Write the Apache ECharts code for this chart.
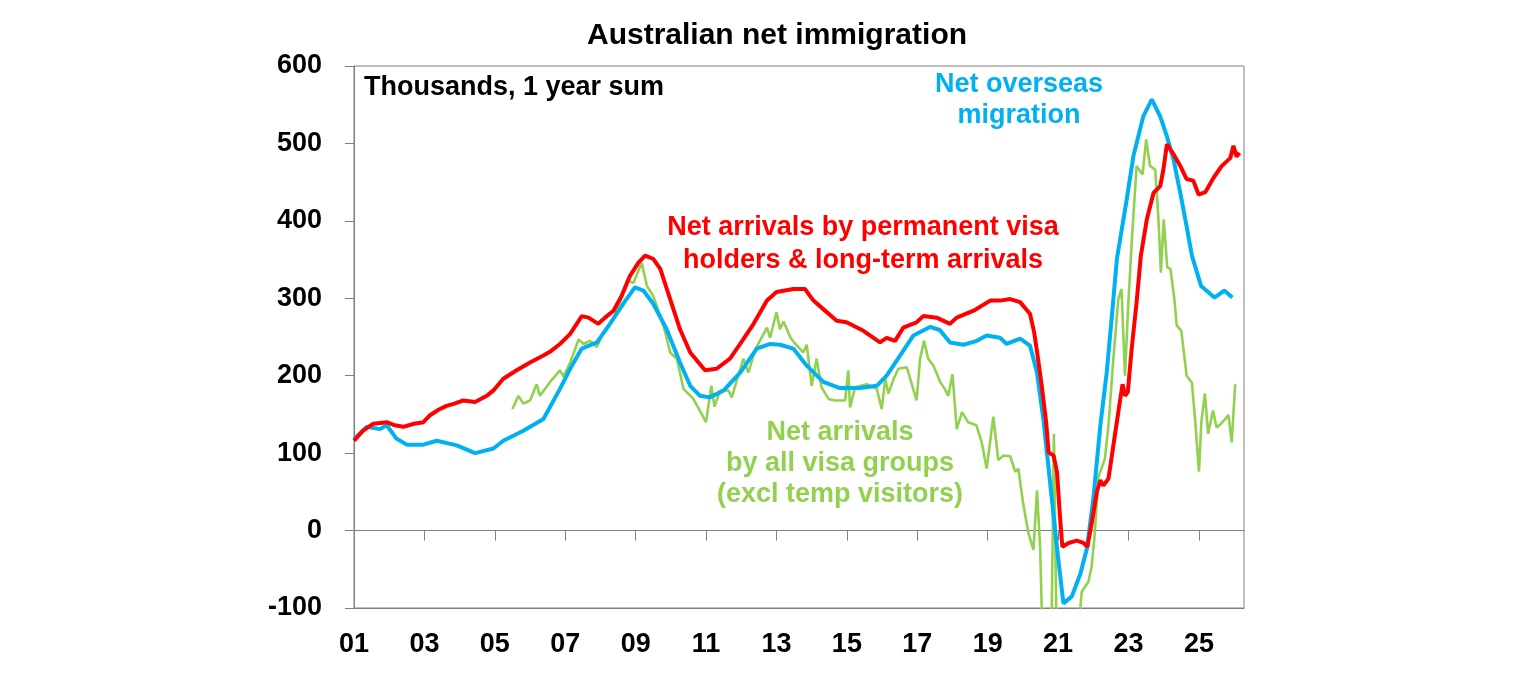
<!DOCTYPE html>
<html>
<head>
<meta charset="utf-8">
<script src="https://cdn.jsdelivr.net/npm/echarts@6/dist/echarts.min.js"></script>
<style>
html,body{margin:0;padding:0;background:#fff;}
#chart{width:1536px;height:680px;}
</style>
</head>
<body>
<div id="chart"></div>
<script>
// ---- Data (thousands, 1 year sum); x values are decimal years ----
const tickYears = [2001, 2003, 2005, 2007, 2009, 2011, 2013, 2015, 2017, 2019, 2021, 2023, 2025];
const yTicks = [-100, 0, 100, 200, 300, 400, 500, 600];

// Net arrivals by permanent visa holders & long-term arrivals (red)
const redYears = [2001.0,2001.26,2001.55,2001.93,2002.16,2002.4,2002.7,2002.97,2003.16,2003.4,2003.63,2003.85,
  2004.1,2004.44,2004.77,2004.96,2005.24,2005.62,2006.0,2006.38,2006.6,2006.85,2007.14,2007.47,2007.66,2007.94,
  2008.13,2008.37,2008.6,2008.84,2009.08,2009.27,2009.5,2009.7,2009.98,2010.26,2010.55,2010.97,2011.3,2011.68,
  2011.97,2012.35,2012.73,2013.0,2013.48,2013.81,2014.05,2014.33,2014.71,2014.99,2015.47,2015.94,2016.13,2016.37,
  2016.6,2016.98,2017.17,2017.55,2017.93,2018.12,2018.6,2019.07,2019.35,2019.64,2019.92,2020.2,2020.32,2020.42,
  2020.54,2020.66,2020.73,2020.87,2020.97,2021.05,2021.12,2021.3,2021.53,2021.72,2021.83,2021.96,2022.1,2022.2,
  2022.28,2022.43,2022.57,2022.71,2022.83,2022.9,2022.98,2023.09,2023.23,2023.35,2023.52,2023.71,2023.9,2023.99,
  2024.09,2024.28,2024.47,2024.65,2024.84,2024.99,2025.18,2025.42,2025.65,2025.89,2025.98,2026.07,2026.15];
const redValues = [116,129,138,140,136,134,138,140,149,156,161,164,
  168,166,174,181,196,207,217,226,232,241,254,277,275,267,
  275,284,303,329,346,355,351,338,299,260,230,207,209,222,
  241,267,297,308,312,312,297,286,271,269,258,243,249,245,
  262,269,277,275,267,275,284,297,297,299,295,280,256,225,
  185,140,101,97,75,20,-21,-16,-13,-16,-21,11,50,65,
  58,67,110,153,189,174,179,235,295,355,402,436,445,466,
  499,486,471,454,452,434,437,456,471,481,497,483,488];

// Net overseas migration (blue)
const blueYears = [2001.0,2001.36,2001.74,2001.93,2002.2,2002.5,2002.97,2003.35,2003.92,2004.44,2004.96,2005.24,
  2005.81,2006.38,2006.85,2007.14,2007.47,2007.9,2008.27,2008.65,2008.98,2009.22,2009.5,2009.88,2010.26,2010.55,
  2010.83,2011.1,2011.5,2011.97,2012.44,2012.82,2013.1,2013.48,2013.86,2014.33,2014.8,2015.37,2015.85,2016.13,
  2016.51,2016.89,2017.36,2017.64,2017.93,2018.31,2018.69,2018.97,2019.35,2019.54,2019.92,2020.2,2020.4,2020.58,
  2020.77,2020.96,2021.15,2021.39,2021.63,2021.82,2022.0,2022.2,2022.38,2022.57,2022.67,2022.95,2023.14,2023.42,
  2023.66,2023.9,2024.09,2024.28,2024.47,2024.65,2024.8,2025.06,2025.44,2025.72,2025.95];
const blueValues = [118,134,131,136,119,111,111,116,110,100,106,116,
  129,144,183,209,235,243,267,293,314,310,293,260,217,187,
  174,172,181,204,235,241,240,235,213,192,184,184,187,200,
  226,252,263,259,243,240,245,252,249,241,248,239,204,144,
  63,-19,-94,-85,-56,-23,41,136,204,299,351,428,484,535,
  557,535,509,479,436,393,355,316,301,310,301];

// Net arrivals by all visa groups (excl temp visitors) (green)
const greenYears = [2005.5,2005.67,2005.81,2006.0,2006.19,2006.28,2006.57,2006.85,2006.95,2007.14,2007.38,2007.52,
  2007.7,2007.9,2008.08,2008.37,2008.6,2008.75,2008.94,2009.17,2009.32,2009.5,2009.79,2009.98,2010.17,2010.36,
  2010.64,2011.0,2011.15,2011.24,2011.4,2011.64,2011.73,2012.06,2012.2,2012.4,2012.73,2012.82,2013.0,2013.1,
  2013.2,2013.4,2013.5,2013.76,2013.86,2014.0,2014.14,2014.28,2014.48,2014.66,2014.95,2015.04,2015.09,2015.23,
  2015.56,2015.85,2015.99,2016.09,2016.18,2016.33,2016.46,2016.7,2016.98,2017.08,2017.19,2017.31,2017.46,2017.65,
  2017.78,2017.88,2018.0,2018.12,2018.27,2018.44,2018.68,2018.83,2018.97,2019.16,2019.3,2019.45,2019.64,2019.78,
  2019.87,2020.0,2020.16,2020.3,2020.4,2020.49,2020.58,2020.8,2020.88,2020.97,2021.45,2021.67,2021.86,2021.95,
  2022.03,2022.15,2022.33,2022.43,2022.57,2022.71,2022.8,2022.9,2022.99,2023.1,2023.23,2023.4,2023.5,2023.61,
  2023.76,2023.85,2023.92,2024.0,2024.1,2024.19,2024.3,2024.37,2024.5,2024.65,2024.8,2024.89,2025.0,2025.07,
  2025.17,2025.26,2025.4,2025.5,2025.63,2025.84,2025.93,2026.03];
const greenValues = [157,174,164,168,189,174,192,207,199,217,247,241,
  245,237,256,273,300,323,320,346,316,303,265,230,222,183,
  170,140,187,160,181,181,172,222,204,234,262,249,282,260,
  270,249,243,230,240,187,222,185,170,168,168,207,159,185,
  189,183,157,196,177,196,209,211,168,222,245,222,213,192,
  183,174,202,131,153,140,136,114,80,147,91,97,96,76,
  80,37,-4,-25,52,-23,-180,-180,125,-180,-200,-79,-66,-47,
  -10,70,93,136,222,299,312,200,290,380,471,460,505,471,
  466,402,333,402,340,338,300,265,258,200,191,144,76,141,
  177,125,155,133,138,149,114,189];

const pair = (xs, ys) => xs.map((x, i) => [x, ys[i]]);

const FONT = '"Liberation Sans", Arial, Helvetica, sans-serif';
const AXIS_GREY = '#808080';
const RED = '#FF0000', BLUE = '#00B0F0', GREEN = '#92D050';

const chart = echarts.init(document.getElementById('chart'), null, {renderer: 'canvas'});

const option = {
  animation: false,
  backgroundColor: '#ffffff',
  grid: {
    left: 354, right: 292, top: 66, bottom: 72,
    show: true, borderColor: AXIS_GREY, borderWidth: 1, backgroundColor: 'transparent'
  },
  xAxis: [
    {
      type: 'value', min: 2001, max: 2026.28, position: 'bottom',
      axisLine: {show: true, onZero: false, lineStyle: {color: AXIS_GREY, width: 1}},
      axisTick: {show: false},
      splitLine: {show: false},
      axisLabel: {
        customValues: tickYears,
        formatter: v => String(Math.round(v) % 100).padStart(2, '0'),
        fontFamily: FONT, fontSize: 27, fontWeight: 'bold', color: '#000', margin: 23
      }
    },
    {
      type: 'value', min: 2001, max: 2026.28, position: 'bottom',
      axisLine: {show: true, onZero: true, lineStyle: {color: AXIS_GREY, width: 1}},
      axisTick: {show: true, customValues: tickYears.slice(1), length: 10, inside: false,
                 lineStyle: {color: AXIS_GREY, width: 1}},
      axisLabel: {show: false, customValues: tickYears.slice(1)},
      splitLine: {show: false}
    }
  ],
  yAxis: {
    type: 'value', min: yTicks[0], max: yTicks[yTicks.length - 1], interval: 100,
    axisLine: {show: true, onZero: false, lineStyle: {color: AXIS_GREY, width: 1}},
    axisTick: {show: true, length: 9, lineStyle: {color: AXIS_GREY, width: 1}},
    splitLine: {show: false},
    axisLabel: {fontFamily: FONT, fontSize: 27, fontWeight: 'bold', color: '#000', margin: 32}
  },
  series: [
    {
      name: 'Net arrivals by all visa groups (excl temp visitors)', type: 'line',
      xAxisIndex: 0, data: pair(greenYears, greenValues), showSymbol: false, symbol: 'none',
      clip: true, lineStyle: {color: GREEN, width: 2.6}, z: 2
    },
    {
      name: 'Net overseas migration', type: 'line',
      xAxisIndex: 0, data: pair(blueYears, blueValues), showSymbol: false, symbol: 'none',
      clip: true, lineStyle: {color: BLUE, width: 4}, z: 3
    },
    {
      name: 'Net arrivals by permanent visa holders & long-term arrivals', type: 'line',
      xAxisIndex: 0, data: pair(redYears, redValues), showSymbol: false, symbol: 'none',
      clip: true, lineStyle: {color: RED, width: 4}, z: 4
    }
  ],
  graphic: [
    {type: 'text', x: 777, y: 36, z: 10,
     style: {text: 'Australian net immigration', fill: '#000', font: 'bold 30px ' + FONT,
             align: 'center', verticalAlign: 'middle'}},
    {type: 'text', x: 364, y: 88, z: 10,
     style: {text: 'Thousands, 1 year sum', fill: '#000', font: 'bold 27px ' + FONT,
             align: 'left', verticalAlign: 'middle'}},
    {type: 'text', x: 1019, y: 100, z: 10,
     style: {text: 'Net overseas\nmigration', fill: BLUE, font: 'bold 27px ' + FONT,
             align: 'center', verticalAlign: 'middle', lineHeight: 31.5}},
    {type: 'text', x: 863, y: 244, z: 10,
     style: {text: 'Net arrivals by permanent visa\nholders & long-term arrivals', fill: RED,
             font: 'bold 27px ' + FONT, align: 'center', verticalAlign: 'middle', lineHeight: 32.5}},
    {type: 'text', x: 840, y: 464, z: 10,
     style: {text: 'Net arrivals\nby all visa groups\n(excl temp visitors)', fill: GREEN,
             font: 'bold 27px ' + FONT, align: 'center', verticalAlign: 'middle', lineHeight: 31}}
  ]
};
chart.setOption(option);
</script>
</body>
</html>
